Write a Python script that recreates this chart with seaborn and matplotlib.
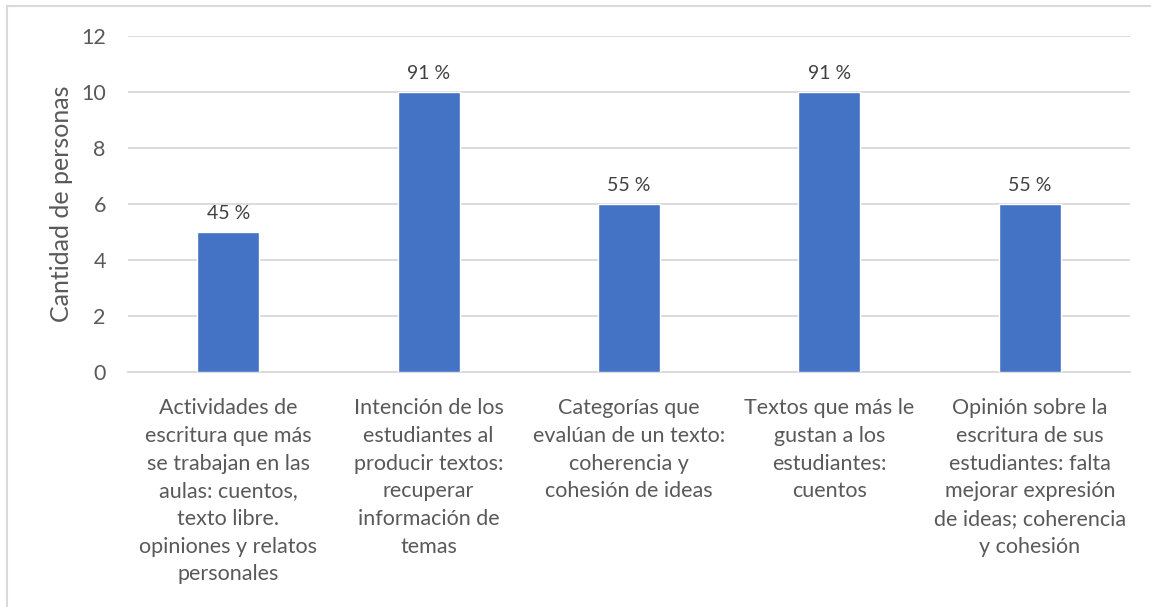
import matplotlib
matplotlib.use("Agg")
import matplotlib.pyplot as plt
import seaborn as sns
import pandas as pd
from matplotlib.patches import Rectangle

categories = [
    "Actividades de\nescritura que más\nse trabajan en las\naulas: cuentos,\ntexto libre.\nopiniones y relatos\npersonales",
    "Intención de los\nestudiantes al\nproducir textos:\nrecuperar\ninformación de\ntemas",
    "Categorías que\nevalúan de un texto:\ncoherencia y\ncohesión de ideas",
    "Textos que más le\ngustan a los\nestudiantes:\ncuentos",
    "Opinión sobre la\nescritura de sus\nestudiantes: falta\nmejorar expresión\nde ideas; coherencia\ny cohesión",
]
values = [5, 10, 6, 10, 6]
pct_labels = ["45 %", "91 %", "55 %", "91 %", "55 %"]
y_ticks = [0, 2, 4, 6, 8, 10, 12]
y_label = "Cantidad de personas"

sns.set_theme(style="white")
plt.rcParams["font.family"] = ["Lato", "DejaVu Sans"]
text_color = "#595959"
grid_color = "#D9D9D9"

df = pd.DataFrame({"cat": categories, "val": values})

fig = plt.figure(figsize=(11.51, 6.07), dpi=100)
ax = fig.add_axes([0.1112, 0.3871, 0.8706, 0.5544])

sns.barplot(data=df, x="cat", y="val", color="#4472C4", width=0.31,
            saturation=1, ax=ax, zorder=3)

ax.set_ylim(0, 12)
ax.set_yticks(y_ticks)
ax.set_xlim(-0.5, len(categories) - 0.5)
ax.yaxis.grid(True, color=grid_color, linewidth=1.3, zorder=0)
ax.set_axisbelow(True)
for s in ["top", "right", "left"]:
    ax.spines[s].set_visible(False)
ax.spines["bottom"].set_color(grid_color)
ax.spines["bottom"].set_linewidth(1.3)
ax.tick_params(axis="both", length=0, colors=text_color, labelsize=15.5)
ax.tick_params(axis="y", pad=16)
ax.tick_params(axis="x", pad=19)
for t in ax.get_xticklabels():
    t.set_linespacing(1.48)
ax.set_xlabel("")
ax.set_ylabel(y_label, fontsize=18, color=text_color, labelpad=6)

ax.bar_label(ax.containers[0], labels=pct_labels, padding=7,
             fontsize=14, color="#404040")

fig.patches.append(Rectangle((7 / 1151, -0.02), 1.2, 1 - 6 / 607 + 0.02,
                             transform=fig.transFigure, fill=False,
                             edgecolor=grid_color, linewidth=1.5))

fig.savefig("out.png", dpi=100)
